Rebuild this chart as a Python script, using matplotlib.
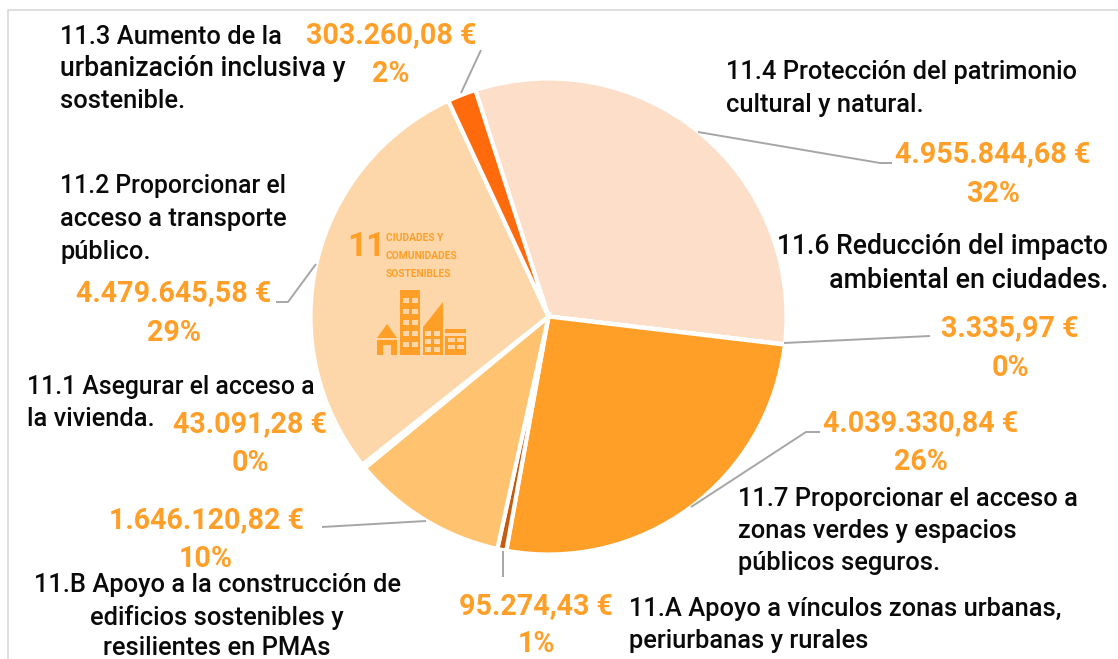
import matplotlib
matplotlib.use("Agg")
import matplotlib.pyplot as plt
from matplotlib.patches import Rectangle, Polygon

W, H = 1118, 659
labels = ["11.4", "11.6", "11.7", "11.A", "11.B", "11.1", "11.2", "11.3"]
values = [4955844.68, 3335.97, 4039330.84, 95274.43, 1646120.82, 43091.28, 4479645.58, 303260.08]
colors = ["#FCDEC9", "#F9E3CF", "#FF9F28", "#C55A11", "#FFC370", "#FBE5D0", "#FDD7A9", "#FF6A0C"]

ORANGE = "#FF9F28"
GREY = "#A6A6A6"
TXT = "#0A0A0A"
FONT = ["Roboto", "DejaVu Sans"]
FS = 18.4
VS = 20.6

black_text = [
    (60, 37, "11.3 Aumento de la", "left", FS),
    (60, 69, "urbanización inclusiva y", "left", FS + 0.8),
    (60, 101, "sostenible.", "left", FS),
    (726, 72, "11.4 Protección del patrimonio", "left", FS),
    (726, 105, "cultural y natural.", "left", FS),
    (60, 186, "11.2 Proporcionar el", "left", FS - 0.6),
    (60, 219, "acceso a transporte", "left", FS),
    (60, 252, "público.", "left", FS),
    (1108, 246, "11.6 Reducción del impacto", "right", FS + 0.8),
    (1108, 280, "ambiental en ciudades.", "right", FS + 1.0),
    (27, 387, "11.1 Asegurar el acceso a", "left", FS - 0.6),
    (27, 419, "la vivienda.", "left", FS),
    (738, 499, "11.7 Proporcionar el acceso a", "left", FS),
    (738, 531, "zonas verdes y espacios", "left", FS),
    (738, 563, "públicos seguros.", "left", FS),
    (217, 585, "11.B Apoyo a la construcción de", "center", FS),
    (217, 617, "edificios sostenibles y", "center", FS),
    (217, 648, "resilientes en PMAs", "center", FS),
    (629, 609, "11.A Apoyo a vínculos zonas urbanas,", "left", FS),
    (629, 641, "periurbanas y rurales", "left", FS),
]
value_text = [
    (391, 35, "303.260,08 €"), (391, 74, "2%"),
    (993, 154, "4.955.844,68 €"), (993, 194, "32%"),
    (174, 293, "4.479.645,58 €"), (174, 333, "29%"),
    (1010, 328, "3.335,97 €"), (1010, 368, "0%"),
    (250, 424, "43.091,28 €"), (250, 463, "0%"),
    (921, 423, "4.039.330,84 €"), (921, 462, "26%"),
    (206, 520, "1.646.120,82 €"), (206, 559, "10%"),
    (536, 606, "95.274,43 €"), (536, 644, "1%"),
]
leaders = [
    ([461, 481], [93, 50]),
    ([698, 880, 892], [132, 163, 163]),
    ([276, 288, 316], [302, 302, 264]),
    ([784, 930], [343, 336]),
    ([691, 806, 820], [507, 432, 432]),
    ([322, 426], [527, 521]),
    ([503, 503], [551, 577]),
]

fig = plt.figure(figsize=(W / 100, H / 100), dpi=100, facecolor="white")
CX, CY, R = 548.5, 316.5, 238
ax = fig.add_axes([(CX - R) / W, 1 - (CY + R) / H, 2 * R / W, 2 * R / H])
ax.pie(values, colors=colors, startangle=107.9, counterclock=False, radius=1,
       wedgeprops=dict(edgecolor="white", linewidth=3.0))
ax.set_xlim(-1, 1)
ax.set_ylim(-1, 1)
ax.set_aspect("equal")

ov = fig.add_axes([0, 0, 1, 1], facecolor="none")
ov.set_xlim(0, W)
ov.set_ylim(H, 0)
ov.axis("off")

ov.plot([7.5, 7.5, W], [H, 9.5, 9.5], color="#D9D9D9", lw=1.2)
for xs, ys in leaders:
    ov.plot(xs, ys, color=GREY, lw=1.4, solid_capstyle="butt")
for x, y, s, ha, fs in black_text:
    ov.text(x, y, s, ha=ha, va="center", fontsize=fs, color=TXT, family=FONT, fontweight=500)
for x, y, s in value_text:
    ov.text(x, y, s, ha="center", va="center", fontsize=VS, color=ORANGE,
            family=FONT, fontweight="bold")

# SDG 11 logo
ov.text(366, 247, "11", ha="center", va="center", fontsize=24, color=ORANGE,
        family=FONT, fontweight="bold")
for y, s in [(238, "CIUDADES Y"), (256, "COMUNIDADES"), (274, "SOSTENIBLES")]:
    ov.text(386, y, s, ha="left", va="center", fontsize=7.4, color=ORANGE,
            family=FONT, fontweight="bold")
rects = [(377, 340, 20, 15), (400, 290, 20, 65), (423, 327, 20, 28), (445, 329, 21, 26)]
for x, y, w, h in rects:
    ov.add_patch(Rectangle((x, y), w, h, fc=ORANGE, ec="none"))
ov.add_patch(Polygon([(377, 338), (387, 324), (397, 338)], fc=ORANGE, ec="none"))
ov.add_patch(Polygon([(423, 327), (443, 302), (443, 327)], fc=ORANGE, ec="none"))
ov.add_patch(Rectangle((383, 345), 8, 10, fc=colors[6], ec="none"))
for r in range(5):
    for c in range(2):
        ov.add_patch(Rectangle((403 + c * 9, 298 + r * 11), 5.5, 5, fc=colors[6], ec="none"))
for r in range(3):
    for c in range(2):
        ov.add_patch(Rectangle((425 + c * 9, 331 + r * 8), 6, 4.5, fc=colors[6], ec="none"))
ov.add_patch(Rectangle((445, 333), 21, 2.5, fc=colors[6], ec="none"))
for r in range(2):
    for c in range(2):
        ov.add_patch(Rectangle((448 + c * 9, 338 + r * 7), 6.5, 4, fc=colors[6], ec="none"))

fig.savefig("out.png", dpi=100)
